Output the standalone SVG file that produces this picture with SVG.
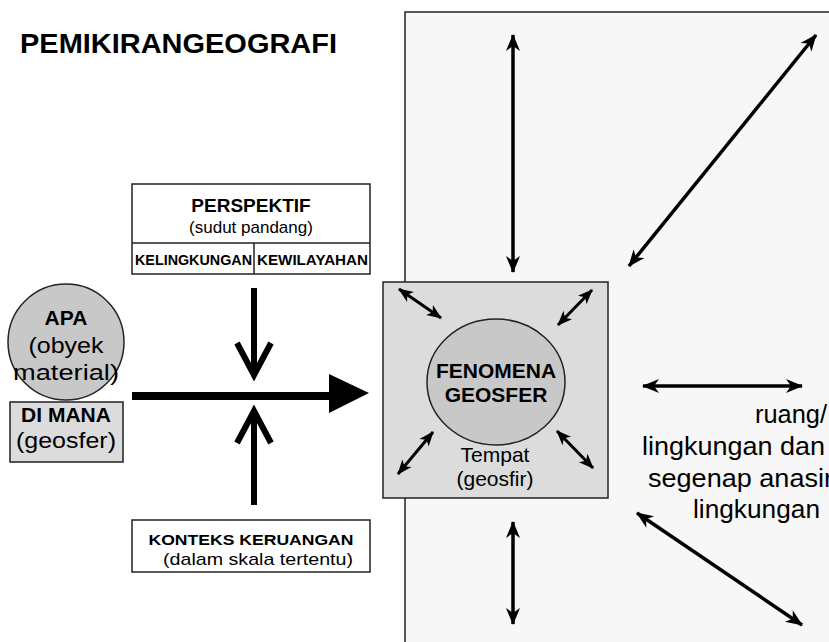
<svg xmlns="http://www.w3.org/2000/svg" width="829" height="642" viewBox="0 0 829 642">
<style>
text{font-family:"Liberation Sans",Arial,sans-serif;fill:#000}
.b{font-weight:bold}
.box{stroke:#222;stroke-width:1.5}
.dbl{stroke:#000;stroke-width:3.5;fill:none;marker-start:url(#hd);marker-end:url(#hd)}
.sm{stroke:#000;stroke-width:3;fill:none;marker-start:url(#hs);marker-end:url(#hs)}
.thick{stroke:#000;stroke-width:6;fill:none}
</style>
<defs>
<marker id="hd" markerUnits="userSpaceOnUse" markerWidth="18" markerHeight="16" refX="16" refY="7" orient="auto-start-reverse" overflow="visible">
<path d="M0,0 L17,7 L0,14 L5,7 z" fill="#000"/>
</marker>
<marker id="hs" markerUnits="userSpaceOnUse" markerWidth="16" markerHeight="14" refX="14" refY="6" orient="auto-start-reverse" overflow="visible">
<path d="M0,0 L15,6 L0,12 L4,6 z" fill="#000"/>
</marker>
</defs>

<g id="background">
<rect x="405" y="12" width="440" height="650" fill="#f7f7f7" class="box"/>
</g>

<g id="title">
<text x="20" y="53" class="b" font-size="28" textLength="317" lengthAdjust="spacingAndGlyphs">PEMIKIRANGEOGRAFI</text>
</g>

<g id="perspektif">
<rect x="132" y="184" width="238" height="90" fill="#fff" class="box"/>
<line x1="132" y1="243" x2="370" y2="243" class="box"/>
<line x1="254" y1="243" x2="254" y2="274" class="box"/>
<text x="251" y="212" text-anchor="middle" class="b" font-size="19">PERSPEKTIF</text>
<text x="251" y="233" text-anchor="middle" font-size="17">(sudut pandang)</text>
<text x="135" y="265" class="b" font-size="14" textLength="117" lengthAdjust="spacingAndGlyphs">KELINGKUNGAN</text>
<text x="257" y="265" class="b" font-size="14" textLength="111" lengthAdjust="spacingAndGlyphs">KEWILAYAHAN</text>
</g>

<g id="konteks">
<rect x="132" y="520" width="238" height="52" fill="#fff" class="box"/>
<text x="251" y="545" text-anchor="middle" class="b" font-size="15" textLength="205" lengthAdjust="spacingAndGlyphs">KONTEKS  KERUANGAN</text>
<text x="258" y="565" text-anchor="middle" font-size="17" textLength="190" lengthAdjust="spacingAndGlyphs">(dalam  skala  tertentu)</text>
</g>

<g id="apa">
<circle cx="66" cy="342" r="58" fill="#c8c8c8" class="box"/>
<text x="66" y="325" text-anchor="middle" class="b" font-size="21">APA</text>
<text x="66" y="353" text-anchor="middle" font-size="22" textLength="75" lengthAdjust="spacingAndGlyphs">(obyek</text>
<text x="66" y="380" text-anchor="middle" font-size="22" textLength="106" lengthAdjust="spacingAndGlyphs">material)</text>
</g>

<g id="dimana">
<rect x="10" y="402" width="113" height="60" fill="#dcdcdc" class="box"/>
<text x="66" y="422" text-anchor="middle" class="b" font-size="21">DI MANA</text>
<text x="66" y="448" text-anchor="middle" font-size="22" textLength="100" lengthAdjust="spacingAndGlyphs">(geosfer)</text>
</g>

<g id="fenomena">
<rect x="383" y="282" width="225" height="216" fill="#dcdcdc" class="box"/>
<ellipse cx="496" cy="382" rx="69" ry="63" fill="#c8c8c8" class="box"/>
<text x="496" y="378" text-anchor="middle" class="b" font-size="21">FENOMENA</text>
<text x="496" y="402" text-anchor="middle" class="b" font-size="21">GEOSFER</text>
<text x="495" y="462" text-anchor="middle" font-size="21">Tempat</text>
<text x="495" y="486" text-anchor="middle" font-size="21">(geosfir)</text>
</g>

<g id="ruang">
<text x="755" y="423" font-size="25" textLength="72" lengthAdjust="spacingAndGlyphs">ruang/</text>
<text x="642" y="455" font-size="25" textLength="183" lengthAdjust="spacingAndGlyphs">lingkungan dan</text>
<text x="648" y="487" font-size="25" textLength="185" lengthAdjust="spacingAndGlyphs">segenap anasir</text>
<text x="693" y="518" font-size="25" textLength="127" lengthAdjust="spacingAndGlyphs">lingkungan</text>
</g>

<g id="connectors">
<rect x="132" y="392" width="198" height="8" fill="#000"/>
<polygon points="329,374 369,393 329,413" fill="#000"/>
<line x1="254" y1="288" x2="254" y2="374" class="thick"/>
<polyline points="237,343 254,375 271,343" class="thick"/>
<line x1="254" y1="505" x2="254" y2="412" class="thick"/>
<polyline points="237,443 254,411 271,443" class="thick"/>

<line x1="513" y1="35" x2="513" y2="272" class="dbl"/>
<line x1="816" y1="35" x2="629" y2="266" class="dbl"/>
<line x1="643" y1="386" x2="802" y2="386" class="dbl"/>
<line x1="637" y1="513" x2="802" y2="625" class="dbl"/>
<line x1="513" y1="522" x2="513" y2="624" class="dbl"/>

<line x1="399" y1="289" x2="441" y2="318" class="sm"/>
<line x1="592" y1="290" x2="558" y2="325" class="sm"/>
<line x1="433" y1="432" x2="398" y2="474" class="sm"/>
<line x1="557" y1="431" x2="593" y2="468" class="sm"/>
</g>
</svg>
